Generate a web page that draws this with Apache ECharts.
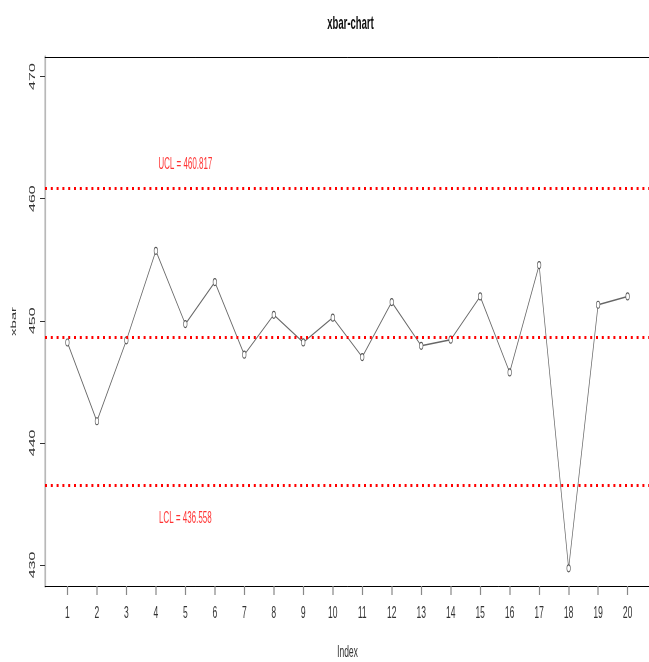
<!DOCTYPE html>
<html>
<head>
<meta charset="utf-8">
<script src="https://cdn.jsdelivr.net/npm/echarts@6/dist/echarts.min.js"></script>
<style>
html,body{margin:0;padding:0;background:#fff;overflow:hidden;width:649px;height:662px;}
#c{width:1298px;height:662px;transform:scaleX(0.5);transform-origin:0 0;}
</style>
</head>
<body>
<div id="c"></div>
<script>
// ---- data ----
const indexValues = [1,2,3,4,5,6,7,8,9,10,11,12,13,14,15,16,17,18,19,20];
const xbarValues = [448.22,441.77,448.40,455.73,449.73,453.17,447.22,450.49,448.23,450.25,
                    447.03,451.53,447.95,448.45,451.99,445.77,454.56,429.73,451.31,451.99];
const yTicks = [430,440,450,460,470];
const UCL = 460.817;
const LCL = 436.558;
const CL = (UCL + LCL) / 2;
const limitLabels = ['UCL = 460.817', 'LCL = 436.558'];
const limitLabelX = [5, 5];
const limitLabelY = [462.8, 433.8];

const FONT = 'Liberation Sans, Arial, sans-serif';
const chart = echarts.init(document.getElementById('c'), null, {renderer:'canvas'});

const lineData = indexValues.map((x,i)=>[x, xbarValues[i]]);
const labelData = limitLabels.map((t,i)=>[limitLabelX[i], limitLabelY[i], t]);

chart.setOption({
  animation:false,
  backgroundColor:'#ffffff',
  title:{
    text:'xbar-chart', left:696, top:9, textAlign:'center',
    textStyle:{fontFamily:FONT, fontSize:19, fontWeight:'bold', color:'#111'}
  },
  grid:{left:90, top:57, width:1210, height:529, containLabel:false, outerBoundsMode:'none'},
  xAxis:[{
    type:'value', min:0.24, max:20.76, position:'bottom',
    axisLine:{show:true, onZero:false, lineStyle:{color:'#000', width:1}},
    axisTick:{show:true, customValues:indexValues, length:9, lineStyle:{color:'#888', width:2.4}},
    axisLabel:{show:true, customValues:indexValues, margin:19, fontFamily:FONT, fontSize:17, color:'#333'},
    splitLine:{show:false},
    name:'Index', nameLocation:'middle', nameGap:58,
    nameTextStyle:{fontFamily:FONT, fontSize:17, color:'#333'}
  },{
    type:'value', min:0.24, max:20.76, position:'top',
    axisLine:{show:true, onZero:false, lineStyle:{color:'#000', width:1}},
    axisTick:{show:false}, axisLabel:{show:false}, splitLine:{show:false}
  }],
  yAxis:{
    type:'value', min:428.28, max:471.6,
    axisLine:{show:true, onZero:false, lineStyle:{color:'#b8b8b8', width:3.4}},
    axisTick:{show:true, customValues:yTicks, length:10, lineStyle:{color:'#333', width:1}},
    axisLabel:{show:true, customValues:yTicks, rotate:90, margin:16, fontFamily:FONT, fontSize:16, color:'#333'},
    splitLine:{show:false},
    name:'xbar', nameLocation:'middle', nameGap:55, nameRotate:90,
    nameTextStyle:{fontFamily:FONT, fontSize:15, color:'#333'}
  },
  series:[{
    type:'line', name:'xbar', xAxisIndex:0, data:lineData,
    symbol:'circle', symbolSize:7,
    itemStyle:{color:'#fff', borderColor:'#555', borderWidth:1.2},
    lineStyle:{color:'#666', width:1.4},
    z:3,
    markLine:{
      silent:true, symbol:['none','none'], label:{show:false},
      lineStyle:{color:'#ff0000', width:3, type:[4,7.6], cap:'butt'},
      data:[{yAxis:UCL},{yAxis:CL},{yAxis:LCL}]
    }
  },{
    type:'scatter', name:'limits', xAxisIndex:0, data:labelData,
    symbolSize:0, silent:true,
    label:{show:true, position:'inside', formatter:p=>p.data[2],
      fontFamily:FONT, fontSize:16, color:'#ff0000'}
  }]
});
</script>
</body>
</html>
